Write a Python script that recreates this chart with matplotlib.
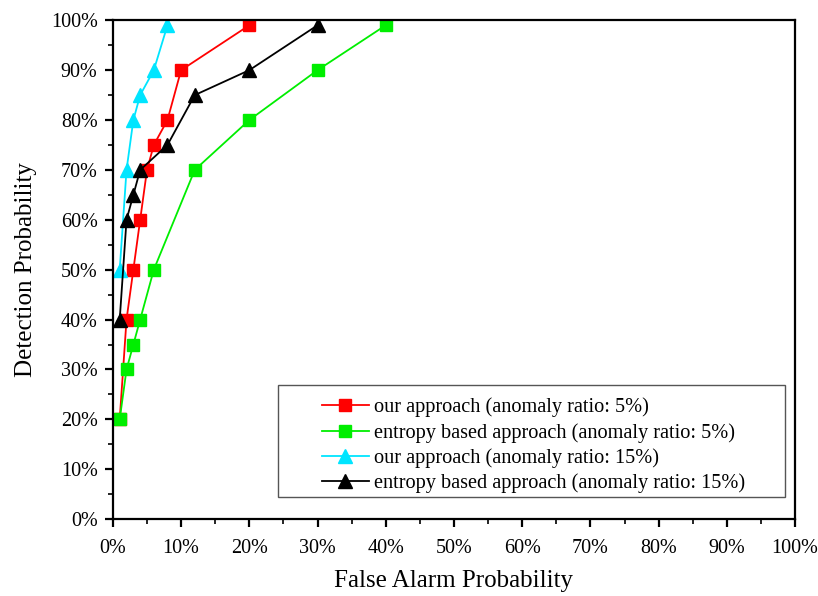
import matplotlib
matplotlib.use("Agg")
import matplotlib.pyplot as plt
from matplotlib.ticker import MultipleLocator, PercentFormatter
from matplotlib.patches import Rectangle

plt.rcParams['font.family'] = ['Liberation Serif', 'DejaVu Serif']

our5_x = [1, 2, 3, 4, 5, 6, 8, 10, 20]
our5_y = [20, 40, 50, 60, 70, 75, 80, 90, 99]
ent5_x = [1, 2, 3, 4, 6, 12, 20, 30, 40]
ent5_y = [20, 30, 35, 40, 50, 70, 80, 90, 99]
our15_x = [1, 2, 3, 4, 6, 8]
our15_y = [50, 70, 80, 85, 90, 99]
ent15_x = [1, 2, 3, 4, 8, 12, 20, 30]
ent15_y = [40, 60, 65, 70, 75, 85, 90, 99]
labels = ["our approach (anomaly ratio: 5%)",
          "entropy based approach (anomaly ratio: 5%)",
          "our approach (anomaly ratio: 15%)",
          "entropy based approach (anomaly ratio: 15%)"]

fig = plt.figure(figsize=(8.18, 5.96), dpi=100)
ax = fig.add_axes([0.138, 0.129, 0.834, 0.837])

ax.plot(our5_x, our5_y, color='#ff0000', marker='s', ms=8, lw=1.3, label=labels[0])
ax.plot(ent5_x, ent5_y, color='#00ee00', marker='s', ms=8, lw=1.3, label=labels[1])
ax.plot(our15_x, our15_y, color='#00e5ff', marker='^', ms=9.5, lw=1.3, label=labels[2])
ax.plot(ent15_x, ent15_y, color='black', marker='^', ms=9.5, lw=1.3, label=labels[3])

ax.set_xlim(0, 100)
ax.set_ylim(0, 100)
ax.xaxis.set_major_locator(MultipleLocator(10))
ax.xaxis.set_minor_locator(MultipleLocator(5))
ax.yaxis.set_major_locator(MultipleLocator(10))
ax.yaxis.set_minor_locator(MultipleLocator(5))
ax.xaxis.set_major_formatter(PercentFormatter(decimals=0))
ax.yaxis.set_major_formatter(PercentFormatter(decimals=0))
ax.tick_params(which='major', direction='out', length=6, width=1.6, labelsize=14.5, pad=5)
ax.tick_params(axis='x', which='major', pad=8)
ax.tick_params(which='minor', direction='out', length=3.5, width=1.2)
for s in ax.spines.values():
    s.set_linewidth(1.6)

ax.set_xlabel("False Alarm Probability", fontsize=18, labelpad=9)
ax.set_ylabel("Detection Probability", fontsize=18, labelpad=10)

# legend frame drawn as a box in axes coordinates (wide empty left margin as in reference)
x0 = (278 - 113) / 682.0
x1 = (785 - 113) / 682.0
y0 = (519 - 497) / 499.0
y1 = (519 - 385) / 499.0
ax.add_patch(Rectangle((x0, y0), x1 - x0, y1 - y0, transform=ax.transAxes,
                       facecolor='white', edgecolor='#555555', lw=1.0, zorder=4))
leg = ax.legend(loc='lower left', bbox_to_anchor=((322 - 113) / 682.0, (519 - 493) / 499.0),
                fontsize=14.6, frameon=False,
                handlelength=2.3, borderpad=0.0, labelspacing=0.27,
                borderaxespad=0, handletextpad=0.25)
leg.set_zorder(5)

fig.savefig("out.png", dpi=100)
